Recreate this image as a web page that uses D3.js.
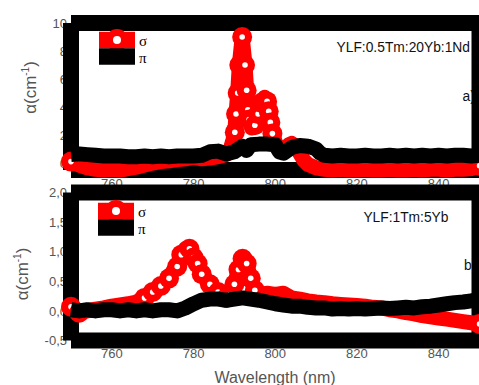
<!DOCTYPE html>
<html>
<head>
<meta charset="utf-8">
<script src="https://cdn.jsdelivr.net/npm/d3@7"></script>
<style>
  body { margin: 0; background: #fff; }
  svg { display: block; font-family: "Liberation Sans", Arial, sans-serif; }
</style>
</head>
<body>
<svg id="chart" width="479" height="385"></svg>
<script>
// wavelength ticks shared by both panels
var wlTicks = [760, 780, 800, 820, 840];
var topTicks = [0, 2, 4, 6, 8, 10];
var bottomTicks = [-0.5, 0, 0.5, 1, 1.5, 2];

// a) YLF:0.5Tm:20Yb:1Nd  [wavelength nm, alpha cm-1]
var topSigma = [[750,0.1],[752,-0.15],[754,-0.35],[756,-0.45],[758,-0.5],[760,-0.45],[762,-0.5],[764,-0.4],
  [766,-0.3],[768,-0.15],[770,0.0],[772,0.1],[774,0.15],[776,0.25],[778,0.3],[780,0.4],[782,0.3],[784,0.35],
  [786,0.45],[788,0.6],[789,1.0],[789.6,1.6],[790.1,2.2],[790.4,3.5],[790.8,5.0],[791.2,7.0],[791.9,9.0],
  [792.6,7.0],[793,5.2],[793.3,3.8],[793.6,3.1],[794.2,2.5],[795,2.7],[795.8,3.5],[796.6,4.3],[797.4,4.7],
  [798,4.4],[798.4,3.7],[798.8,2.9],[799.3,2.1],[800,1.5],[800.8,1.0],[801.6,0.8],[802.5,1.0],[803.3,1.3],
  [804,1.4],[805,1.2],[806,0.7],[807,0.2],[808,-0.1],[810,-0.35],[812,-0.45],[814,-0.5],[816,-0.45],[818,-0.5],
  [820,-0.5],[822,-0.45],[824,-0.5],[826,-0.5],[828,-0.45],[830,-0.5],[832,-0.5],[834,-0.45],[836,-0.5],
  [838,-0.45],[840,-0.45],[842,-0.5],[844,-0.45],[846,-0.45],[848,-0.4],[850,-0.2]];
var topPi = [[750,0.6],[752,0.65],[754,0.6],[756,0.55],[758,0.5],[760,0.5],[762,0.5],[764,0.45],[766,0.45],
  [768,0.5],[770,0.45],[772,0.5],[774,0.45],[776,0.5],[778,0.5],[780,0.5],[782,0.55],[784,0.8],[786,0.85],
  [788,0.65],[790,0.8],[791,1.0],[792,1.2],[793,0.9],[794,1.3],[796,1.35],[798,1.35],[800,1.3],[801,0.8],
  [802,0.7],[804,1.1],[806,1.25],[808,1.2],[810,1.0],[811,0.7],[812,0.55],[814,0.5],[816,0.55],[818,0.5],
  [820,0.5],[822,0.55],[824,0.5],[826,0.5],[828,0.55],[830,0.5],[832,0.55],[834,0.5],[836,0.55],[838,0.5],
  [840,0.55],[842,0.5],[844,0.55],[846,0.55],[848,0.5],[850,0.55]];

// b) YLF:1Tm:5Yb
var bottomSigma = [[750,0.07],[752,-0.03],[754,0.0],[756,0.03],[758,0.05],[760,0.08],[762,0.1],[764,0.12],
  [766,0.15],[768,0.22],[770,0.32],[772,0.42],[774,0.55],[775,0.68],[776,0.75],[777,0.95],[778,1.05],[779,1.05],
  [780,0.9],[781,0.8],[782,0.62],[784,0.45],[786,0.32],[788,0.22],[789,0.28],[790,0.45],[791,0.7],[792,0.88],
  [793,0.8],[794,0.55],[795,0.35],[796,0.25],[798,0.3],[800,0.28],[802,0.3],[804,0.22],[806,0.2],[808,0.17],
  [810,0.15],[812,0.14],[814,0.12],[816,0.11],[818,0.1],[820,0.09],[822,0.08],[824,0.06],[826,0.05],[828,0.02],
  [830,0.0],[832,-0.03],[834,-0.05],[836,-0.08],[838,-0.1],[840,-0.12],[842,-0.14],[844,-0.16],[846,-0.18],
  [848,-0.2],[850,-0.22]];
var bottomPi = [[750,0.02],[752,0.0],[754,0.02],[756,0.0],[758,0.02],[760,0.02],[762,0.0],[764,0.02],[766,0.0],
  [768,0.02],[770,0.0],[772,0.02],[774,0.02],[776,0.0],[778,0.05],[780,0.12],[782,0.18],[784,0.2],[786,0.2],
  [788,0.18],[790,0.2],[792,0.22],[794,0.2],[796,0.18],[798,0.15],[800,0.12],[802,0.1],[804,0.08],[806,0.08],
  [808,0.06],[810,0.05],[812,0.05],[814,0.03],[816,0.04],[818,0.03],[820,0.04],[822,0.03],[824,0.04],[826,0.05],
  [828,0.04],[830,0.05],[832,0.06],[834,0.05],[836,0.07],[838,0.08],[840,0.1],[842,0.12],[844,0.14],[846,0.15],
  [848,0.17],[850,0.18]];

var svg = d3.select("#chart");
var x = d3.scaleLinear().domain([750, 850]).range([71, 479.5]);

function drawPanel(p) {
    var y = d3.scaleLinear().domain(p.domain).range(p.range);
    var g = svg.append("g");

    // tick labels (drawn first, the frame covers part of them)
    g.selectAll(".yt").data(p.ticks).enter().append("text")
        .attr("x", 67).attr("y", function (d) { return y(d) + 4.7; })
        .attr("text-anchor", "end").attr("font-size", 13).attr("fill", "#555")
        .text(p.fmt);
    g.selectAll(".xt").data(wlTicks).enter().append("text")
        .attr("x", x).attr("y", y(p.domain[0]) + 17.5)
        .attr("text-anchor", "middle").attr("font-size", 13).attr("fill", "#555")
        .text(function (d) { return d; });

    // sample name and panel letter
    g.append("text").attr("x", p.nameX).attr("y", p.nameY).attr("text-anchor", "end")
        .attr("font-size", 13.8).attr("fill", "#111").text(p.name);
    g.append("text").attr("x", p.tagX).attr("y", p.tagY)
        .attr("font-size", 13.8).attr("fill", "#111").text(p.tag);

    // axis title
    var t = g.append("text").attr("transform", "translate(" + p.titleX + "," + p.titleY + ") rotate(-90)")
        .attr("text-anchor", "middle").attr("font-size", 17).attr("fill", "#555");
    t.append("tspan").text("α(cm");
    t.append("tspan").attr("font-size", 10).attr("dy", -7).text("-1");
    t.append("tspan").attr("dy", 7).text(")");

    // heavy frame: four separate strokes along the axis extremes
    var x0 = x(750), x1 = x(850), yt = y(p.domain[1]), yb = y(p.domain[0]);
    var sides = [[x0, yt, x1, yt], [x0, yb, x1, yb], [x0, yt, x0, yb], [x1, yt, x1, yb]];
    g.selectAll(".fr").data(sides).enter().append("line")
        .attr("x1", function (d) { return d[0]; }).attr("y1", function (d) { return d[1]; })
        .attr("x2", function (d) { return d[2]; }).attr("y2", function (d) { return d[3]; })
        .attr("stroke", "#000").attr("stroke-width", 16);

    var line = d3.line().x(function (d) { return x(d[0]); }).y(function (d) { return y(d[1]); });

    // sigma: thick line, circle symbols show where neighbours are far apart (peaks, ends)
    g.append("path").datum(p.sigma).attr("d", line)
        .attr("fill", "none").attr("stroke", "#ff0000").attr("stroke-width", 15)
        .attr("stroke-linejoin", "round");
    var pts = p.sigma.map(function (d) { return [x(d[0]), y(d[1])]; });
    var sym = pts.filter(function (q, i) {
        var a = i > 0 ? Math.hypot(q[0] - pts[i - 1][0], q[1] - pts[i - 1][1]) : 99;
        var b = i < pts.length - 1 ? Math.hypot(q[0] - pts[i + 1][0], q[1] - pts[i + 1][1]) : 99;
        return a > 9.5 || b > 9.5;
    });
    var m = g.selectAll(".sm").data(sym).enter().append("g")
        .attr("transform", function (q) { return "translate(" + q[0] + "," + q[1] + ")"; });
    m.append("circle").attr("r", 10).attr("fill", "#ff0000");
    m.append("circle").attr("r", 2.8).attr("fill", "#fff");

    // pi
    g.append("path").datum(p.pi).attr("d", line)
        .attr("fill", "none").attr("stroke", "#000").attr("stroke-width", 15)
        .attr("stroke-linejoin", "round");

    // legend
    var lx = p.legX, ly = p.legY;
    g.append("line").attr("x1", lx).attr("x2", lx + 36).attr("y1", ly).attr("y2", ly)
        .attr("stroke", "#ff0000").attr("stroke-width", 16.5);
    g.append("circle").attr("cx", lx + 18).attr("cy", ly).attr("r", 11).attr("fill", "#ff0000");
    g.append("circle").attr("cx", lx + 18).attr("cy", ly).attr("r", 4).attr("fill", "#fff");
    g.append("line").attr("x1", lx).attr("x2", lx + 36).attr("y1", ly + 16.5).attr("y2", ly + 16.5)
        .attr("stroke", "#000").attr("stroke-width", 16.5);
    g.append("text").attr("x", lx + 40).attr("y", ly + 5.5)
        .attr("font-family", "'Liberation Serif', serif").attr("font-size", 15).text("σ");
    g.append("text").attr("x", lx + 40).attr("y", ly + 22.5)
        .attr("font-family", "'Liberation Serif', serif").attr("font-size", 15).text("π");
}

drawPanel({
    domain: [-0.5, 10], range: [170, 23], ticks: topTicks,
    fmt: function (d) { return d; },
    sigma: topSigma, pi: topPi,
    name: "YLF:0.5Tm:20Yb:1Nd", nameX: 470, nameY: 51.5, tag: "a)", tagX: 462.5, tagY: 100.5,
    titleX: 36, titleY: 87.5, legX: 99, legY: 40
});

drawPanel({
    domain: [-0.5, 2], range: [340.5, 192.5], ticks: bottomTicks,
    fmt: function (d) { return d3.format(".1f")(d).replace(".", ",").replace("−", "-"); },
    sigma: bottomSigma, pi: bottomPi,
    name: "YLF:1Tm:5Yb", nameX: 448.5, nameY: 221.5, tag: "b)", tagX: 464, tagY: 270,
    titleX: 28, titleY: 274, legX: 98, legY: 211
});

// shared x title
svg.append("text").attr("x", 275).attr("y", 382.5).attr("text-anchor", "middle")
    .attr("font-size", 16).attr("fill", "#555").text("Wavelength (nm)");
</script>
</body>
</html>
